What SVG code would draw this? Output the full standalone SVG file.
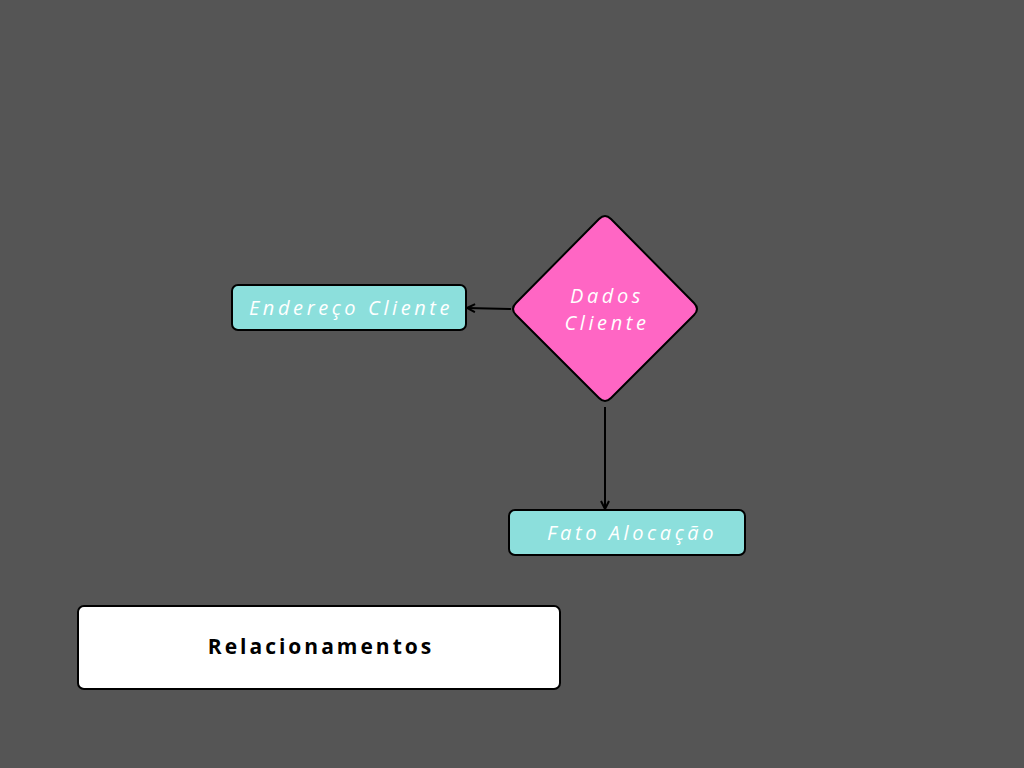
<svg xmlns="http://www.w3.org/2000/svg" width="1024" height="768" viewBox="0 0 1024 768">
<defs>
<style>
.box{fill:#8cdfdc;stroke:#000;stroke-width:2}
.lbl{font-family:"Open Sans","Liberation Sans",sans-serif;font-style:italic;font-size:20px;fill:#fff;letter-spacing:3.6px;text-anchor:middle}
.title{font-family:"Open Sans","Liberation Sans",sans-serif;font-weight:bold;font-size:21px;fill:#000;letter-spacing:3px;text-anchor:middle}
.edge{stroke:#000;stroke-width:2;fill:none}
</style>
<marker id="ah" viewBox="0 0 10 10" refX="9" refY="5" markerWidth="5" markerHeight="5" orient="auto-start-reverse">
<path d="M1,1 L9,5 L1,9" fill="none" stroke="#000" stroke-width="2"/>
</marker>
</defs>
<rect width="1024" height="768" fill="#555555"/>
<g id="connectors">
<line class="edge" x1="511" y1="309" x2="467" y2="308" marker-end="url(#ah)"/>
<line class="edge" x1="605" y1="407" x2="605" y2="509" marker-end="url(#ah)"/>
</g>
<g id="endereco">
<rect class="box" x="232" y="285" width="234" height="45" rx="6"/>
<text class="lbl" x="351" y="315">Endereço Cliente</text>
</g>
<g id="dados">
<path d="M599,219 Q605,213 611,219 L694,303 Q700,309 694,315 L611,398 Q605,404 599,398 L516,315 Q510,309 516,303 Z" fill="#ff66c4" stroke="#000" stroke-width="2"/>
<text class="lbl" x="607" y="303">Dados</text>
<text class="lbl" x="607" y="330">Cliente</text>
</g>
<g id="fato">
<rect class="box" x="509" y="510" width="236" height="45" rx="6"/>
<text class="lbl" x="632" y="540">Fato Alocação</text>
</g>
<g id="relacionamentos">
<rect x="78" y="606" width="482" height="83" rx="6" fill="#fff" stroke="#000" stroke-width="2"/>
<text class="title" x="321" y="654">Relacionamentos</text>
</g>
</svg>
